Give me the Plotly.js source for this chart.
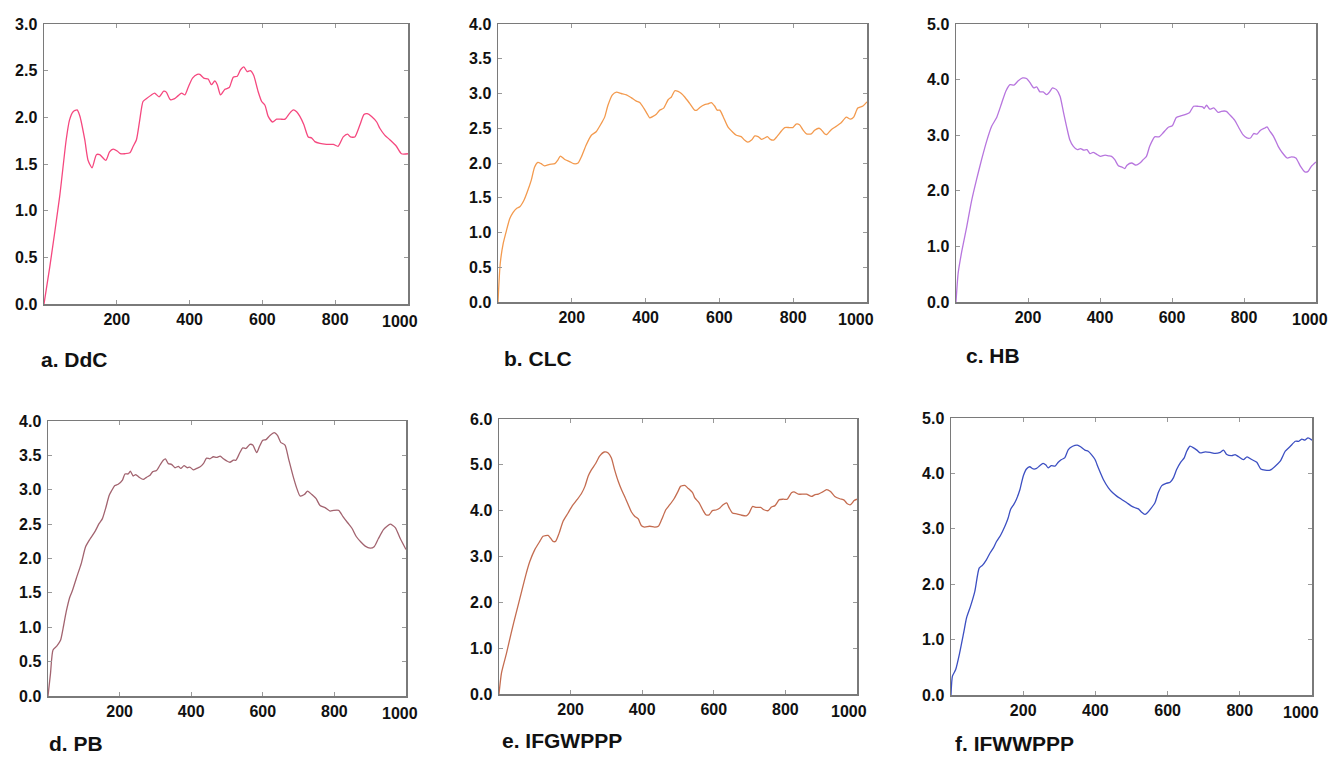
<!DOCTYPE html>
<html>
<head>
<meta charset="utf-8">
<script src="https://cdn.plot.ly/plotly-3.0.1.min.js"></script>
<style>html,body{margin:0;padding:0;background:#fff;}#chart{width:1331px;height:758px;}</style>
</head>
<body>
<div id="chart"></div>
<script>
// ---- Data ----
const panelLabels = ["a. DdC", "b. CLC", "c. HB", "d. PB", "e. IFGWPPP", "f. IFWWPPP"];
const xTickVals = [200, 400, 600, 800, 1000];
const xTickText = ["200", "400", "600", "800", ""];   // the last label is drawn a little left of its tick, as in the reference
const xLastTickVal = 1000;
const xLastTickText = "1000";

const ddcX = [0,16,43,61,70,80,91,98,112,121,132,144,153,170,180,190,201,210,222,236,245,254,263,272,281,295,304,316,329,336,347,359,368,378,387,396,408,421,428,439,451,460,469,476,485,497,509,520,531,540,549,558,567,576,588,598,607,616,628,639,650,662,674,685,694,703,714,726,735,744,758,776,795,808,822,834,842,854,868,879,888,900,914,923,936,950,968,982,1000];
const ddcY = [0,0.40,1.15,1.76,1.97,2.06,2.08,2.02,1.76,1.54,1.46,1.60,1.60,1.54,1.63,1.66,1.64,1.61,1.61,1.62,1.69,1.76,1.97,2.17,2.20,2.24,2.26,2.22,2.28,2.27,2.19,2.20,2.23,2.26,2.24,2.32,2.42,2.46,2.46,2.42,2.41,2.35,2.39,2.35,2.24,2.30,2.32,2.43,2.44,2.51,2.54,2.49,2.50,2.45,2.28,2.17,2.13,2.01,1.95,1.98,1.98,1.98,2.04,2.08,2.06,2.01,1.92,1.79,1.78,1.74,1.72,1.71,1.71,1.69,1.79,1.82,1.79,1.79,1.92,2.03,2.04,2.01,1.95,1.88,1.81,1.76,1.69,1.61,1.61];

const clcX = [0,6,14,23,32,41,51,59,70,79,90,99,108,117,126,140,154,163,169,181,194,205,217,226,239,253,266,280,289,298,310,321,334,348,361,375,384,395,404,411,420,429,438,449,461,470,479,488,497,506,519,533,539,547,560,569,578,587,594,601,610,623,637,646,659,668,677,687,696,705,714,723,730,738,747,756,768,777,790,799,808,817,826,836,849,858,870,876,885,891,903,917,930,944,955,964,975,989,1000];
const clcY = [0,0.55,0.84,1.03,1.20,1.29,1.35,1.37,1.46,1.58,1.75,1.94,2.01,1.99,1.96,1.98,1.99,2.05,2.10,2.05,2.02,1.99,2.00,2.09,2.26,2.40,2.45,2.57,2.66,2.83,2.98,3.02,3.00,2.98,2.94,2.89,2.87,2.79,2.71,2.65,2.67,2.70,2.76,2.79,2.91,2.95,3.04,3.03,3.00,2.95,2.86,2.76,2.76,2.80,2.84,2.85,2.87,2.82,2.76,2.76,2.67,2.52,2.44,2.40,2.38,2.33,2.30,2.33,2.39,2.38,2.34,2.36,2.38,2.34,2.33,2.38,2.46,2.51,2.51,2.51,2.56,2.55,2.48,2.42,2.42,2.47,2.50,2.48,2.42,2.41,2.48,2.53,2.58,2.66,2.63,2.66,2.79,2.82,2.88];

const hbX = [0,6,16,30,43,57,71,85,99,113,127,139,150,161,173,185,196,205,216,224,233,242,252,259,268,279,289,298,307,316,326,337,346,355,364,372,381,390,401,414,423,432,441,451,460,469,475,488,500,511,520,529,538,552,564,575,589,601,612,626,640,649,660,673,685,689,696,705,716,728,737,751,760,774,786,797,808,818,827,836,846,858,864,871,882,895,907,920,932,944,957,969,978,987,1000];
const hbY = [0,0.52,0.91,1.36,1.81,2.20,2.56,2.89,3.16,3.32,3.58,3.80,3.91,3.90,3.98,4.03,4.02,3.95,3.85,3.87,3.78,3.78,3.73,3.77,3.85,3.82,3.70,3.43,3.16,2.92,2.80,2.74,2.76,2.73,2.74,2.67,2.69,2.66,2.62,2.64,2.63,2.62,2.56,2.45,2.43,2.40,2.46,2.50,2.46,2.50,2.56,2.62,2.80,2.97,2.97,3.04,3.14,3.17,3.32,3.35,3.38,3.41,3.52,3.52,3.51,3.48,3.54,3.47,3.49,3.41,3.43,3.43,3.37,3.27,3.13,3.01,2.95,2.95,3.03,3.02,3.09,3.13,3.15,3.08,2.98,2.80,2.68,2.59,2.61,2.59,2.44,2.34,2.35,2.44,2.52];

const pbX = [0,7,14,25,35,42,51,61,68,79,93,105,117,131,143,152,161,171,177,187,196,208,215,224,230,238,245,255,266,275,285,292,303,313,322,328,336,345,355,364,371,380,389,396,406,415,424,434,443,452,462,471,481,490,499,508,518,525,535,544,553,564,572,583,590,600,609,620,632,641,650,662,672,684,695,704,716,725,737,749,760,774,788,798,812,824,837,849,861,874,886,900,911,923,937,947,956,970,984,1000];
const pbY = [0,0.33,0.67,0.73,0.81,0.98,1.23,1.44,1.53,1.71,1.93,2.17,2.28,2.39,2.51,2.58,2.73,2.92,2.98,3.06,3.08,3.14,3.23,3.23,3.27,3.20,3.22,3.18,3.15,3.18,3.21,3.26,3.28,3.36,3.43,3.45,3.38,3.37,3.32,3.34,3.31,3.35,3.32,3.33,3.29,3.31,3.33,3.38,3.46,3.45,3.48,3.47,3.49,3.45,3.42,3.40,3.43,3.43,3.53,3.61,3.60,3.66,3.65,3.54,3.62,3.72,3.73,3.79,3.83,3.79,3.69,3.65,3.45,3.21,3.02,2.91,2.93,2.98,2.93,2.87,2.77,2.74,2.69,2.70,2.70,2.61,2.52,2.44,2.32,2.24,2.18,2.15,2.17,2.29,2.42,2.47,2.50,2.45,2.29,2.13];

const ifgX = [0,7,21,34,48,62,75,86,100,114,123,137,144,151,158,168,179,193,205,218,230,240,249,258,270,281,294,305,314,323,333,342,351,361,370,379,389,398,407,421,435,445,454,466,477,489,500,507,519,528,541,547,559,569,578,587,596,608,617,626,636,643,652,664,678,692,699,708,719,731,740,752,761,771,783,794,805,817,824,836,850,859,873,883,892,904,915,926,938,952,964,973,982,992,1000];
const ifgY = [0,0.46,0.89,1.33,1.77,2.20,2.60,2.89,3.15,3.33,3.44,3.46,3.40,3.33,3.33,3.51,3.77,3.95,4.11,4.24,4.37,4.53,4.75,4.89,5.03,5.19,5.28,5.26,5.15,4.89,4.64,4.46,4.31,4.13,3.97,3.88,3.82,3.67,3.64,3.66,3.64,3.66,3.80,4.02,4.13,4.26,4.42,4.53,4.55,4.49,4.39,4.28,4.17,4.02,3.91,3.91,4.00,4.02,4.06,4.13,4.17,4.06,3.95,3.93,3.90,3.89,3.95,4.09,4.07,4.07,4.02,4.00,4.08,4.11,4.24,4.25,4.25,4.39,4.41,4.36,4.36,4.36,4.31,4.35,4.36,4.41,4.46,4.42,4.31,4.26,4.23,4.15,4.13,4.22,4.25];

const ifwX = [0,4,13,24,35,43,54,66,78,87,98,107,117,126,137,149,158,165,174,181,191,200,209,218,228,237,246,255,263,269,278,288,297,306,315,325,337,350,359,371,380,389,399,408,422,436,448,459,473,487,500,510,519,528,537,544,553,565,574,584,596,607,616,625,636,646,653,662,672,681,690,704,718,732,746,755,764,778,787,797,810,820,833,847,858,870,884,898,912,926,940,954,963,972,980,989,1000];
const ifwY = [0,0.34,0.46,0.76,1.12,1.39,1.60,1.87,2.29,2.34,2.44,2.55,2.65,2.77,2.88,3.04,3.19,3.35,3.44,3.53,3.71,3.95,4.08,4.12,4.08,4.09,4.14,4.18,4.15,4.10,4.14,4.13,4.20,4.25,4.28,4.43,4.49,4.51,4.48,4.42,4.40,4.34,4.25,4.10,3.89,3.74,3.65,3.59,3.53,3.47,3.41,3.38,3.36,3.30,3.26,3.29,3.36,3.47,3.65,3.78,3.82,3.84,3.92,4.07,4.20,4.28,4.40,4.49,4.46,4.42,4.37,4.39,4.38,4.36,4.38,4.42,4.34,4.32,4.34,4.30,4.25,4.30,4.25,4.20,4.08,4.06,4.06,4.13,4.22,4.40,4.49,4.58,4.58,4.62,4.60,4.64,4.60];

// y-axis tick values per panel
const yTicksA = [0, 0.5, 1.0, 1.5, 2.0, 2.5, 3.0];
const yTicksB = [0, 0.5, 1.0, 1.5, 2.0, 2.5, 3.0, 3.5, 4.0];
const yTicksC = [0, 1, 2, 3, 4, 5];
const yTicksD = [0, 0.5, 1.0, 1.5, 2.0, 2.5, 3.0, 3.5, 4.0];
const yTicksE = [0, 1, 2, 3, 4, 5, 6];
const yTicksF = [0, 1, 2, 3, 4, 5];

// ---- Presentation ----
const W = 1331, H = 758;
const panels = [
  {x: ddcX, y: ddcY, yt: yTicksA, color: "#f5487f", box: [44, 408, 24, 304], lab: [39, 359], shift: -8},
  {x: clcX, y: clcY, yt: yTicksB, color: "#f39a4e", box: [498, 867, 24, 302], lab: [502, 358], shift: -11},
  {x: hbX,  y: hbY,  yt: yTicksC, color: "#b775de", box: [956, 1316, 24, 302], lab: [964, 356], shift: -6},
  {x: pbX,  y: pbY,  yt: yTicksD, color: "#a2636f", box: [48, 406, 421, 696], lab: [47, 743], shift: -6},
  {x: ifgX, y: ifgY, yt: yTicksE, color: "#c46c50", box: [499, 857, 419, 694], lab: [500, 740], shift: -8},
  {x: ifwX, y: ifwY, yt: yTicksF, color: "#3c4fc2", box: [951, 1312, 418, 695], lab: [953, 743], shift: -11}
];

const fam = "Liberation Sans, Arial, sans-serif";
const tickFont = {family: fam, size: 16, color: "#111", weight: "bold"};
const traces = [];
const layout = {
  width: W, height: H,
  margin: {l: 0, r: 0, t: 0, b: 0},
  paper_bgcolor: "#ffffff",
  plot_bgcolor: "#ffffff",
  showlegend: false,
  annotations: []
};

panels.forEach((p, i) => {
  const n = i === 0 ? "" : String(i + 1);
  traces.push({
    x: p.x, y: p.y, type: "scatter", mode: "lines",
    line: {color: p.color, width: 1.3, shape: "spline", smoothing: 0.6},
    xaxis: "x" + n, yaxis: "y" + n, hoverinfo: "x+y"
  });
  const [l, r, t, b] = p.box;
  const yMax = p.yt[p.yt.length - 1];
  layout["xaxis" + n] = {
    domain: [l / W, r / W],
    anchor: "y" + n,
    range: [0, 1000],
    tickvals: xTickVals, ticktext: xTickText,
    ticks: "inside", ticklen: 4, tickcolor: "#999", tickwidth: 1,
    showline: true, linecolor: "#7a7a7a", linewidth: 1.5, mirror: "allticks",
    showgrid: false, zeroline: false,
    tickfont: tickFont,
    ticklabelstandoff: 0
  };
  layout["yaxis" + n] = {
    domain: [1 - b / H, 1 - t / H],
    anchor: "x" + n,
    range: [0, yMax],
    tickvals: p.yt, tickformat: ".1f",
    ticks: "inside", ticklen: 4, tickcolor: "#999", tickwidth: 1,
    showline: true, linecolor: "#7a7a7a", linewidth: 1.5, mirror: "allticks",
    showgrid: false, zeroline: false,
    tickfont: tickFont,
    ticklabeloverflow: "allow",
    ticklabelstandoff: 2
  };
  // last x tick label, set slightly left of its tick
  layout.annotations.push({
    text: xLastTickText, xref: "x" + n, yref: "y" + n,
    x: xLastTickVal, y: 0, xshift: p.shift, yshift: -17,
    xanchor: "center", yanchor: "middle", showarrow: false,
    font: tickFont
  });
  layout.annotations.push({
    text: panelLabels[i], xref: "paper", yref: "paper",
    x: p.lab[0] / W, y: 1 - p.lab[1] / H,
    xanchor: "left", yanchor: "middle", showarrow: false,
    font: {family: fam, size: 21, color: "#111", weight: "bold"}
  });
});

Plotly.newPlot("chart", traces, layout, {staticPlot: true, displayModeBar: false});
</script>
</body>
</html>
